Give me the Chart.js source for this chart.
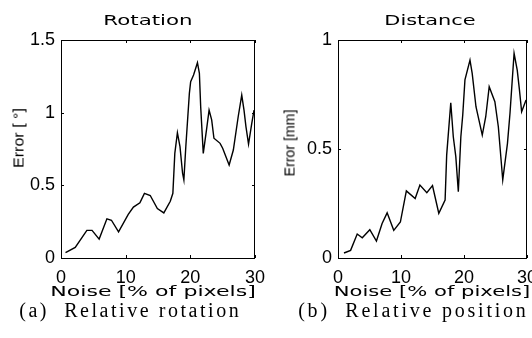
<!DOCTYPE html>
<html>
<head>
<meta charset="utf-8">
<script src="https://cdn.jsdelivr.net/npm/chart.js@4.4.1/dist/chart.umd.min.js"></script>
<style>
  html, body { margin: 0; padding: 0; background: #fff; }
  #wrap { position: relative; width: 532px; height: 338px; overflow: hidden; }
  #wrap canvas { position: absolute; left: 0; top: 0; }
  .txt { position: absolute; white-space: pre; line-height: 1; color: #000; transform-origin: 50% 50%; }
  .ttl { font: 14px "DejaVu Sans", sans-serif; }
  .ylab { font: 15px "Liberation Sans", Arial, sans-serif; }
  .cap { font: 20px "Liberation Serif", "DejaVu Serif", serif; }
</style>
</head>
<body>
<div id="wrap">
  <canvas id="c1" width="532" height="338"></canvas>
  <canvas id="c2" width="532" height="338"></canvas>
</div>
<script>
// rotation error vs noise
const rotX = [0.7, 2.2, 4.0, 4.8, 5.9, 7.1, 7.8, 8.9, 10.4, 11.2, 12.2, 12.9, 13.8, 14.9, 15.9, 16.9, 17.3, 17.6, 18.0, 18.4, 18.8, 19.0, 19.3, 19.85, 20.05, 20.5, 21.1, 21.4, 21.6, 22.0, 22.5, 22.9, 23.3, 23.65, 24.6, 25.0, 26.0, 26.65, 27.4, 27.95, 28.3, 28.6, 29.0, 29.5, 29.85];
const rotY = [0.037, 0.073, 0.19, 0.19, 0.13, 0.27, 0.26, 0.18, 0.30, 0.35, 0.38, 0.445, 0.43, 0.34, 0.31, 0.39, 0.445, 0.72, 0.862, 0.766, 0.583, 0.537, 0.766, 1.133, 1.213, 1.259, 1.344, 1.271, 1.041, 0.72, 0.881, 1.018, 0.95, 0.824, 0.789, 0.755, 0.64, 0.743, 0.972, 1.121, 1.018, 0.904, 0.784, 0.927, 1.018];

// distance error vs noise (right panel)
const distX = [0.95, 2.0, 3.05, 3.85, 5.05, 6.1, 7.0, 7.8, 8.85, 9.9, 10.85, 12.25, 13.0, 14.1, 15.0, 15.4, 16.0, 17.0, 17.25, 17.9, 18.3, 18.7, 19.1, 19.5, 19.8, 20.15, 20.95, 21.3, 21.9, 22.9, 23.45, 24.0, 24.9, 25.45, 26.15, 26.9, 27.3, 27.95, 28.45, 28.8, 29.15, 29.85];
const distY = [0.023, 0.035, 0.11, 0.093, 0.13, 0.078, 0.158, 0.207, 0.127, 0.165, 0.308, 0.273, 0.335, 0.30, 0.332, 0.281, 0.205, 0.266, 0.472, 0.712, 0.556, 0.465, 0.304, 0.556, 0.656, 0.817, 0.908, 0.847, 0.694, 0.564, 0.648, 0.786, 0.717, 0.602, 0.358, 0.526, 0.664, 0.939, 0.862, 0.771, 0.671, 0.725];

const xTicks = [0, 10, 20, 30];
const rotTicks = [0, 0.5, 1, 1.5];
const distTicks = [0, 0.5, 1];

const tickFont = { family: '"Liberation Sans", Arial, sans-serif', size: 18 };

// matlab-like box with inward ticks on all four sides
const framePlugin = {
  id: 'frame',
  afterDraw(chart) {
    const { ctx, chartArea: a, scales } = chart;
    ctx.save();
    ctx.strokeStyle = '#000';
    ctx.lineWidth = 1;
    ctx.strokeRect(a.left + 0.5, a.top + 0.5, a.right - a.left - 1, a.bottom - a.top);
    const len = 3;
    ctx.beginPath();
    scales.x.ticks.forEach(t => {
      const px = Math.round(scales.x.getPixelForValue(t.value)) + 0.5;
      ctx.moveTo(px, a.bottom); ctx.lineTo(px, a.bottom - len);
      ctx.moveTo(px, a.top); ctx.lineTo(px, a.top + len);
    });
    scales.y.ticks.forEach(t => {
      const py = Math.round(scales.y.getPixelForValue(t.value)) + 0.5;
      ctx.moveTo(a.left, py); ctx.lineTo(a.left + len, py);
      ctx.moveTo(a.right, py); ctx.lineTo(a.right - len, py);
    });
    ctx.stroke();
    ctx.restore();
  }
};

function makeChart(id, xs, ys, yTicks, pad) {
  const pts = xs.map((x, i) => ({ x: x, y: ys[i] }));
  return new Chart(document.getElementById(id), {
    type: 'line',
    data: {
      datasets: [{
        data: pts,
        borderColor: '#000',
        borderWidth: 1.4,
        pointRadius: 0,
        tension: 0,
        fill: false
      }]
    },
    options: {
      responsive: false,
      animation: false,
      devicePixelRatio: 1,
      layout: { padding: pad },
      plugins: { legend: { display: false }, tooltip: { enabled: false } },
      scales: {
        x: {
          type: 'linear',
          min: xTicks[0], max: xTicks[xTicks.length - 1],
          grid: { display: false, drawTicks: false },
          border: { display: false },
          ticks: { stepSize: 10, color: '#000', font: tickFont, padding: 9, maxRotation: 0 },
          afterFit: s => { s.height = 30; s.paddingLeft = 0; s.paddingRight = 0; }
        },
        y: {
          min: yTicks[0], max: yTicks[yTicks.length - 1],
          grid: { display: false, drawTicks: false },
          border: { display: false },
          ticks: { stepSize: 0.5, color: '#000', font: tickFont, padding: 6, callback: v => String(v) },
          afterFit: s => { s.width = 40; s.paddingTop = 0; s.paddingBottom = 0; }
        }
      }
    },
    plugins: [framePlugin]
  });
}

makeChart('c1', rotX, rotY, rotTicks, { left: 21, right: 277, top: 40, bottom: 50 });
makeChart('c2', distX, distY, distTicks, { left: 298, right: 5, top: 40, bottom: 50 });

// text labels, stretched/spaced to match the printed figure
function putText(txt, cx, cy, w, cls, rot, spaced) {
  const el = document.createElement('div');
  el.className = 'txt ' + cls;
  el.textContent = txt;
  document.getElementById('wrap').appendChild(el);
  let tf = 'translate(-50%,-50%)' + (rot ? ' rotate(-90deg)' : '');
  if (spaced) {
    const ls = (w - el.offsetWidth) / txt.length;
    el.style.letterSpacing = ls + 'px';
    el.style.paddingLeft = ls + 'px';
  } else {
    tf += ' scaleX(' + (w / el.offsetWidth) + ')';
  }
  el.style.left = cx + 'px';
  el.style.top = cy + 'px';
  el.style.transform = tf;
}

putText('Rotation', 148, 20, 90, 'ttl');
putText('Distance', 430, 20, 91, 'ttl');
putText('Error [ °]', 18, 138, 60, 'ylab', true);
putText('Error [mm]', 289, 143, 67, 'ylab', true);
putText('Noise [% of pixels]', 153, 291, 205, 'ttl');
putText('Noise [% of pixels]', 432, 291, 196, 'ttl');
putText('(a)  Relative rotation', 129, 310, 222, 'cap', false, true);
putText('(b)  Relative position', 412, 310, 230, 'cap', false, true);
</script>
</body>
</html>
